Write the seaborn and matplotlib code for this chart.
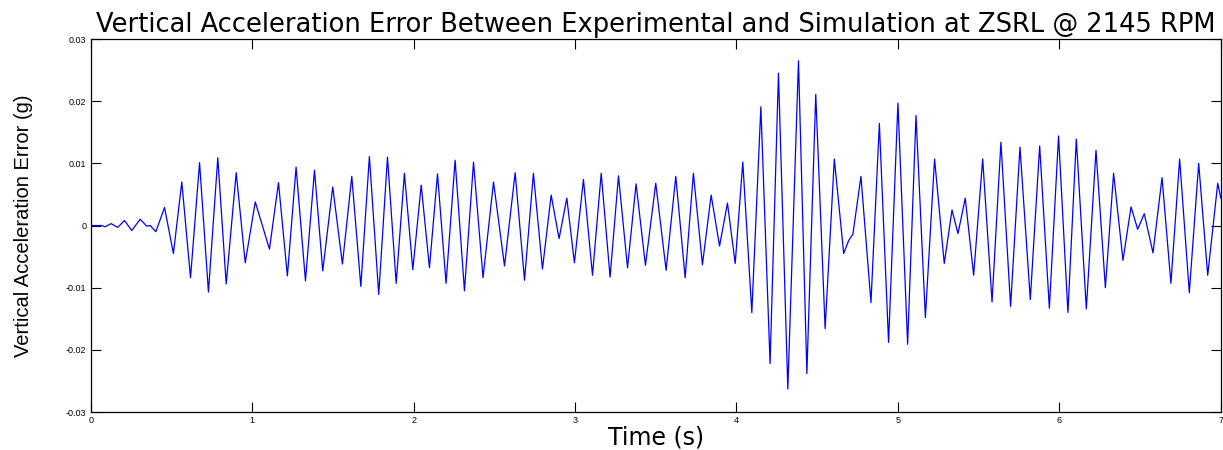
import numpy as np
import pandas as pd
import seaborn as sns
import matplotlib
matplotlib.use("Agg")
import matplotlib.pyplot as plt
from matplotlib import font_manager

# peaks / troughs (time in s, error in g)
time_s = [0.0, 0.068, 0.089, 0.126, 0.167, 0.209, 0.254, 0.306, 0.347, 0.368,
          0.403, 0.457, 0.512, 0.564, 0.618, 0.674, 0.729, 0.787, 0.839, 0.901,
          0.957, 1.019, 1.107, 1.163, 1.218, 1.272, 1.330, 1.386, 1.437, 1.499,
          1.559, 1.617, 1.673, 1.726, 1.784, 1.838, 1.892, 1.943, 1.995, 2.047,
          2.098, 2.148, 2.201, 2.257, 2.315, 2.371, 2.430, 2.495, 2.563, 2.629,
          2.687, 2.742, 2.798, 2.852, 2.901, 2.949, 2.996, 3.052, 3.108, 3.162,
          3.217, 3.269, 3.325, 3.378, 3.436, 3.500, 3.564, 3.624, 3.682, 3.733,
          3.789, 3.843, 3.895, 3.944, 3.992, 4.039, 4.095, 4.151, 4.208, 4.260,
          4.318, 4.384, 4.436, 4.491, 4.549, 4.606, 4.664, 4.695, 4.721, 4.771,
          4.833, 4.885, 4.942, 5.000, 5.060, 5.112, 5.170, 5.227, 5.287, 5.335,
          5.372, 5.417, 5.469, 5.525, 5.583, 5.638, 5.698, 5.756, 5.820, 5.878,
          5.938, 5.995, 6.053, 6.105, 6.167, 6.227, 6.285, 6.336, 6.394, 6.444,
          6.485, 6.526, 6.580, 6.636, 6.691, 6.745, 6.805, 6.863, 6.919, 6.981,
          7.0]
accel_err = [0.0, 0.0, -0.0002, 0.0003, -0.0003, 0.0008, -0.0008, 0.0010, -0.0001, 0.0,
             -0.0010, 0.0029, -0.0045, 0.0070, -0.0084, 0.0101, -0.0107, 0.0109, -0.0094, 0.0085,
             -0.0060, 0.0038, -0.0038, 0.0069, -0.0081, 0.0094, -0.0089, 0.0089, -0.0073, 0.0062,
             -0.0062, 0.0079, -0.0098, 0.0111, -0.0111, 0.0110, -0.0093, 0.0084, -0.0071, 0.0065,
             -0.0068, 0.0083, -0.0093, 0.0105, -0.0105, 0.0102, -0.0084, 0.0070, -0.0065, 0.0085,
             -0.0088, 0.0084, -0.0070, 0.0049, -0.0021, 0.0044, -0.0060, 0.0074, -0.0080, 0.0084,
             -0.0083, 0.0080, -0.0068, 0.0067, -0.0064, 0.0068, -0.0072, 0.0079, -0.0084, 0.0084,
             -0.0063, 0.0049, -0.0033, 0.0036, -0.0061, 0.0102, -0.0140, 0.0191, -0.0222, 0.0245,
             -0.0263, 0.0265, -0.0238, 0.0211, -0.0166, 0.0107, -0.0045, -0.0024, -0.0014, 0.0079,
             -0.0124, 0.0164, -0.0188, 0.0197, -0.0191, 0.0177, -0.0148, 0.0107, -0.0061, 0.0025,
             -0.0013, 0.0044, -0.0080, 0.0107, -0.0123, 0.0134, -0.0130, 0.0126, -0.0119, 0.0128,
             -0.0133, 0.0144, -0.0140, 0.0139, -0.0134, 0.0121, -0.0100, 0.0084, -0.0056, 0.0030,
             -0.0006, 0.0019, -0.0044, 0.0077, -0.0093, 0.0107, -0.0108, 0.0100, -0.0080, 0.0068,
             0.0044]

x_ticks = [0, 1, 2, 3, 4, 5, 6, 7]
y_ticks = [-0.03, -0.02, -0.01, 0, 0.01, 0.02, 0.03]
y_tick_labels = ['-0.03', '-0.02', '-0.01', '0', '0.01', '0.02', '0.03']

df = pd.DataFrame({'t': time_s, 'err': accel_err})

sns.set_style('ticks')
plt.rcParams['font.family'] = ['Liberation Sans', 'DejaVu Sans']
plt.rcParams['text.color'] = 'black'
plt.rcParams['axes.labelcolor'] = 'black'

fig = plt.figure(figsize=(12.23, 4.5), dpi=100)
ax = fig.add_axes([0.0742, 0.0844, 0.9240, 0.8289])

sns.lineplot(data=df, x='t', y='err', ax=ax, color=(0, 0, 1), linewidth=0.9,
             estimator=None, sort=False)

ax.set_xlim(0, 7)
ax.set_ylim(-0.03, 0.03)
ax.set_xticks(x_ticks)
ax.set_xticklabels([str(v) for v in x_ticks])
ax.set_yticks(y_ticks)
ax.set_yticklabels(y_tick_labels)
ax.tick_params(axis='both', direction='in', length=7, width=0.8,
               labelsize=6.5, top=True, right=True, pad=3, colors='black')
for s in ax.spines.values():
    s.set_visible(True)
    s.set_color('black')
    s.set_linewidth(0.9)

# the reference text is stretched sideways, so a wide face is used for it
ax.set_title('Vertical Acceleration Error Between Experimental and Simulation at ZSRL @ 2145 RPM',
             fontsize=18.5, family='DejaVu Sans', color='black', pad=5)
ax.set_xlabel('Time (s)', fontsize=17, family='DejaVu Sans', labelpad=0)

names = {f.name for f in font_manager.fontManager.ttflist}
if 'Liberation Sans Narrow' in names:
    ax.set_ylabel('Vertical Acceleration Error (g)', fontsize=17.5,
                  family='Liberation Sans Narrow', labelpad=24)
else:
    ax.set_ylabel('Vertical Acceleration Error (g)', fontsize=14.5, labelpad=24)

fig.savefig('out.png', dpi=100)
